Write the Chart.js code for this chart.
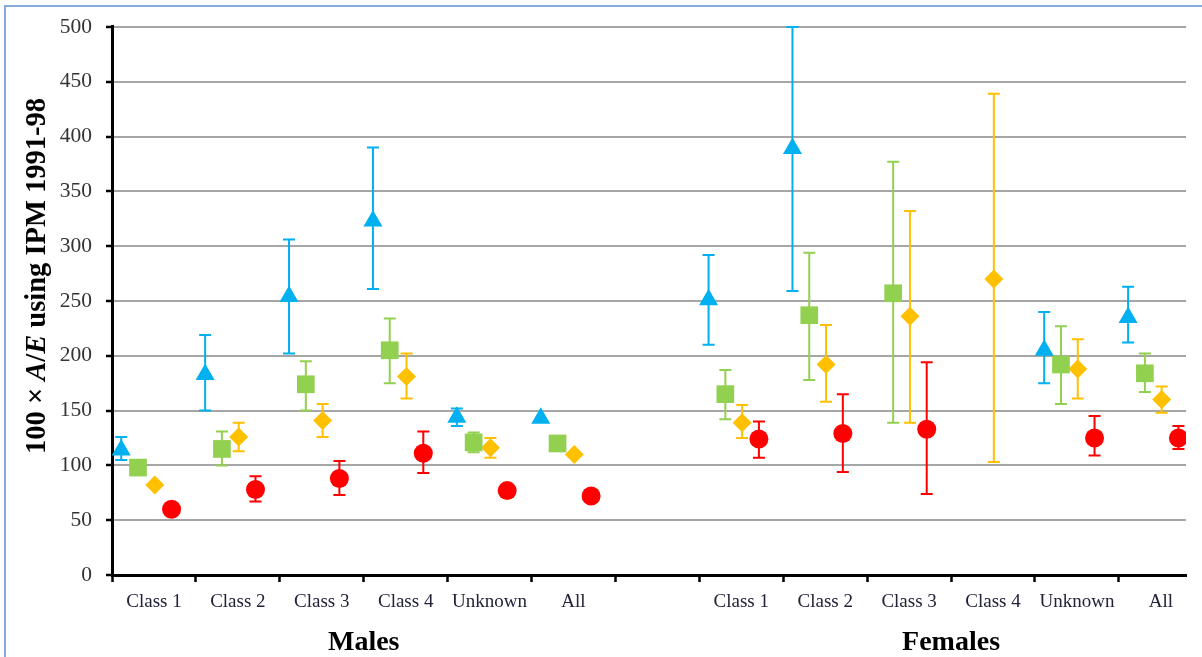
<!DOCTYPE html>
<html>
<head>
<meta charset="utf-8">
<script src="https://cdn.jsdelivr.net/npm/chart.js@4.4.1/dist/chart.umd.min.js"></script>
<style>
html,body{margin:0;padding:0;background:#fff;}
#wrap{position:relative;width:1202px;height:657px;overflow:hidden;}
#frame{position:absolute;left:4px;top:5px;width:1240px;height:700px;border-left:2px solid #86aade;border-top:2px solid #86aade;}
#chart{position:absolute;left:0;top:0;}
#ytitle{position:absolute;left:36px;top:276px;transform:translate(-50%,-50%) rotate(-90deg);white-space:nowrap;line-height:1;
  font:bold 28.5px "Liberation Serif","Times New Roman",serif;color:#000;}
</style>
</head>
<body>
<div id="wrap">
  <div id="frame"></div>
  <canvas id="chart" width="1202" height="657"></canvas>
  <div id="ytitle">100 × <i>A</i>/<i>E</i> using IPM 1991-98</div>
</div>
<script>
// categories along the x axis (blank slot separates the two groups)
const categories = ["Class 1","Class 2","Class 3","Class 4","Unknown","All","","Class 1","Class 2","Class 3","Class 4","Unknown","All"];
const groups = ["Males","Females"];
const groupFirst = [0, 7];
const groupLast = [5, 12];
const yTicks = [0,50,100,150,200,250,300,350,400,450,500];

// four series, each with upper/lower error limits
const triangle   = [114,183,254,323,144,143,null,251,389,null,null,205,235];
const triangleHi = [126,219,306,390,152,null,null,292,500,null,null,240,263];
const triangleLo = [105,150,202,261,136,null,null,210,259,null,null,175,212];

const square   = [98,115,174,205,121,120,null,165,237,257,null,192,184];
const squareHi = [null,131,195,234,130,null,null,187,294,377,null,227,202];
const squareLo = [null,100,150,175,112,null,null,142,178,139,null,156,167];

const diamond   = [82,126,141,181,116,110,null,139,192,236,270,188,160];
const diamondHi = [null,139,156,202,125,null,null,155,228,332,439,215,172];
const diamondLo = [null,113,126,161,107,null,null,125,158,139,103,161,148];

const circle   = [60,78,88,111,77,72,null,124,129,133,null,125,125];
const circleHi = [null,90,104,131,null,null,null,140,165,194,null,145,136];
const circleLo = [null,67,73,93,null,null,null,107,94,74,null,109,115];

const SERIF = '"Liberation Serif","Times New Roman",serif';
const X_MAX = 12.8;

function pts(vals, off){
  return vals.map(function(v,i){ return {x:i+off, y:v}; });
}

function series(label, vals, hi, lo, off, color, style, r){
  return {label:label, data:pts(vals,off), errHi:hi, errLo:lo,
    backgroundColor:color, borderColor:color, borderWidth:0,
    pointStyle:style, pointRadius:r, pointHoverRadius:r, showLine:false};
}

// vertical error bars with caps, drawn under the markers
const errorBars = {
  id:"errorBars",
  beforeDatasetsDraw(chart){
    const ctx = chart.ctx, xs = chart.scales.x, ys = chart.scales.y;
    chart.data.datasets.forEach(function(ds){
      ctx.save();
      ctx.strokeStyle = ds.borderColor;
      ctx.lineWidth = 2;
      ds.data.forEach(function(p,i){
        if(p.y == null || ds.errHi[i] == null) return;
        const px = xs.getPixelForValue(p.x);
        const t = ys.getPixelForValue(ds.errHi[i]);
        const b = ys.getPixelForValue(ds.errLo[i]);
        ctx.beginPath();
        ctx.moveTo(px,t); ctx.lineTo(px,b);
        ctx.moveTo(px-6,t); ctx.lineTo(px+6,t);
        ctx.moveTo(px-6,b); ctx.lineTo(px+6,b);
        ctx.stroke();
      });
      ctx.restore();
    });
  }
};

const catTicks = categories.map(function(_,i){ return {value:i+0.5}; });
const groupTicks = groups.map(function(_,g){ return {value:(groupFirst[g]+groupLast[g]+1)/2}; });

new Chart(document.getElementById("chart"), {
  type:"scatter",
  data:{datasets:[
    series("triangle", triangle, triangleHi, triangleLo, 0.11, "#00B0F0", "triangle", 11),
    series("square", square, squareHi, squareLo, 0.31, "#92D050", "rect", 12.5),
    series("diamond", diamond, diamondHi, diamondLo, 0.51, "#FFC000", "rectRot", 9.5),
    series("circle", circle, circleHi, circleLo, 0.71, "#FF0000", "circle", 9.5)
  ]},
  options:{
    responsive:false, animation:false,
    layout:{padding:{left:0,top:20,right:16,bottom:0}},
    plugins:{legend:{display:false}, tooltip:{enabled:false}},
    scales:{
      x:{type:"linear", axis:"x", position:"bottom", min:0, max:X_MAX, weight:0,
        afterBuildTicks:function(s){ s.ticks = categories.map(function(_,i){ return {value:i}; }); },
        afterFit:function(s){ s.height = 8; },
        ticks:{display:false, autoSkip:false},
        grid:{drawOnChartArea:false, drawTicks:true, tickLength:7, tickColor:"#000", tickWidth:2.5},
        border:{color:"#000", width:3}},
      xCat:{type:"linear", axis:"x", position:"bottom", min:0, max:X_MAX, weight:1,
        afterBuildTicks:function(s){ s.ticks = catTicks.slice(); },
        afterFit:function(s){ s.height = 42; },
        ticks:{autoSkip:false, maxRotation:0, padding:8, color:"#22223a",
          font:{family:SERIF, size:19},
          callback:function(v){ return categories[Math.round(v-0.5)]; }},
        grid:{display:false, drawTicks:false}, border:{display:false}},
      xGroup:{type:"linear", axis:"x", position:"bottom", min:0, max:X_MAX, weight:2,
        afterBuildTicks:function(s){ s.ticks = groupTicks.slice(); },
        afterFit:function(s){ s.height = 32; },
        ticks:{autoSkip:false, maxRotation:0, padding:1, color:"#000",
          font:{family:SERIF, size:28, weight:"bold"},
          callback:function(v){
            const g = groupTicks.findIndex(function(t){ return Math.abs(t.value-v) < 1e-6; });
            return groups[g];
          }},
        grid:{display:false, drawTicks:false}, border:{display:false}},
      y:{type:"linear", position:"left", min:0, max:500,
        afterBuildTicks:function(s){ s.ticks = yTicks.map(function(v){ return {value:v}; }); },
        afterFit:function(s){ s.width = 112; },
        ticks:{padding:14, color:"#333", font:{family:SERIF, size:21.5}},
        grid:{color:function(c){ return c.tick && c.tick.value === 0 ? "rgba(0,0,0,0)" : "#a6a6a6"; },
          lineWidth:2, tickColor:"#000", tickLength:6, tickWidth:2.5},
        border:{color:"#000", width:3}}
    }
  },
  plugins:[errorBars]
});
</script>
</body>
</html>
